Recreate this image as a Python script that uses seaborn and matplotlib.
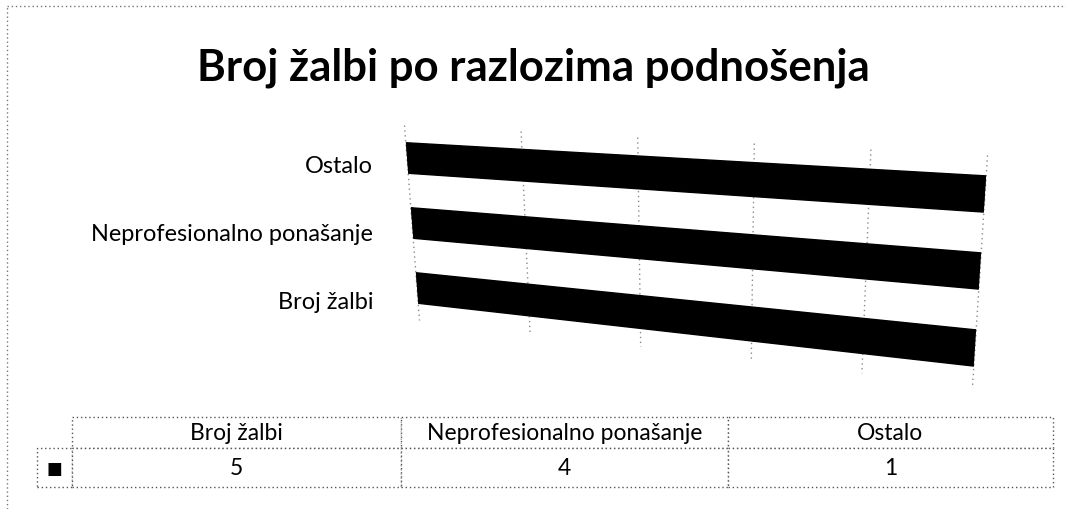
import numpy as np
import matplotlib
matplotlib.use("Agg")
import matplotlib.pyplot as plt
import seaborn as sns
from matplotlib.transforms import Transform
from matplotlib.path import Path
from matplotlib.lines import Line2D
from matplotlib.table import Table

# ---- data ----
categories = ["Broj žalbi", "Neprofesionalno ponašanje", "Ostalo"]
values = [5, 4, 1]
title = "Broj žalbi po razlozima podnošenja"
axis_max = 1.0
grid_ticks = [0, 0.2, 0.4, 0.6, 0.8, 1.0]

sns.set_theme(style="white")
plt.rcParams["font.family"] = ["Lato", "DejaVu Sans"]

W, H = 1066, 510
fig = plt.figure(figsize=(W / 100, H / 100), dpi=100)


def px(x0, y0, x1, y1):
    return [x0 / W, 1 - y1 / H, (x1 - x0) / W, (y1 - y0) / H]


def fp(x, y):
    return (x / W, 1 - y / H)


class Bilinear(Transform):
    """Maps the axes unit square onto a quadrilateral (3-D look)."""
    input_dims = 2
    output_dims = 2
    is_separable = False
    has_inverse = False

    def __init__(self, p00, p10, p01, p11):
        super().__init__()
        self.c = [np.asarray(p, float) for p in (p00, p10, p01, p11)]

    def transform_non_affine(self, values):
        values = np.asarray(values, float)
        u = values[:, :1]
        v = values[:, 1:2]
        p00, p10, p01, p11 = self.c
        return ((1 - u) * (1 - v) * p00 + u * (1 - v) * p10
                + (1 - u) * v * p01 + u * v * p11)


ax = fig.add_axes(px(408, 131, 985, 334))
order = categories[::-1]
sns.barplot(x=values, y=categories, order=order, orient="h", color="black",
            width=0.47, ax=ax, saturation=1)

# perspective wall: corners of the axes square on the page
persp = Bilinear(fp(419.5, 321.5), fp(972.5, 387.5),
                 fp(404.5, 126.5), fp(987.5, 156.5))
wall = persp + fig.transFigure
trans = ax.transScale + ax.transLimits + wall

grid = ax.vlines(grid_ticks, -0.5, 2.5, colors="#8a8a8a",
                 linestyles=(0, (1, 2.5)), linewidth=1, zorder=0.5)
grid.set_transform(trans)
grid.set_clip_on(False)

ax.set_xlim(0, axis_max)
ax.set_ylim(2.5, -0.5)
ax.set_xticks(grid_ticks)
ax.set_xticklabels([])
ax.set_xlabel("")
ax.set_ylabel("")
ax.grid(False)
ax.tick_params(axis="y", length=0, pad=25, labelsize=16.9, colors="black")
ax.tick_params(axis="x", length=0)
for s in ax.spines.values():
    s.set_visible(False)

clip_path = Path([(0, -1), (1, -1), (1, 2), (0, 2), (0, -1)], closed=True)
for p in ax.patches:
    p.set_transform(trans)
    p.set_clip_path(clip_path, wall)
    p.set_clip_box(None)
    p.set_edgecolor("black")

# title
fig.text(0.5, 1 - 81 / H, title, ha="center", va="baseline",
         fontsize=31.5, fontweight="bold", color="black")

# figure border (dotted, left & top)
fig.add_artist(Line2D([7 / W, 7 / W], [0, 1 - 7 / H], transform=fig.transFigure,
                      color="#777777", linestyle=(0, (1, 2)), lw=1))
fig.add_artist(Line2D([7 / W, 1], [1 - 7 / H, 1 - 7 / H], transform=fig.transFigure,
                      color="#777777", linestyle=(0, (1, 2)), lw=1))

# data table (legend key + values)
tax = fig.add_axes([0, 0, 1, 1])
tax.set_axis_off()
tb = Table(tax, bbox=[72 / W, 1 - 488 / H, (1053 - 72) / W, (488 - 418) / H])
col_px = [329, 327, 325]
hdr_h, row_h = 31 / H, 39 / H
for j, (c, w) in enumerate(zip(categories, col_px)):
    tb.add_cell(0, j, width=w / W, height=hdr_h, text=c, loc="center")
for j, (v, w) in enumerate(zip(values, col_px)):
    tb.add_cell(1, j, width=w / W, height=row_h, text=str(v), loc="center")
tb.add_cell(1, -1, width=35 / W, height=row_h, text="■", loc="center")
tb.auto_set_font_size(False)
for (r, c), cell in tb.get_celld().items():
    cell.set_edgecolor("#555555")
    cell.set_linestyle((0, (1, 2)))
    cell.set_linewidth(1)
    cell.get_text().set_fontsize(16.5)
    cell.get_text().set_color("black")
tb[1, -1].get_text().set_fontsize(12)
tb[1, -1].get_text().set_fontfamily(["DejaVu Sans"])
tax.add_table(tb)

fig.savefig("out.png", dpi=100)
